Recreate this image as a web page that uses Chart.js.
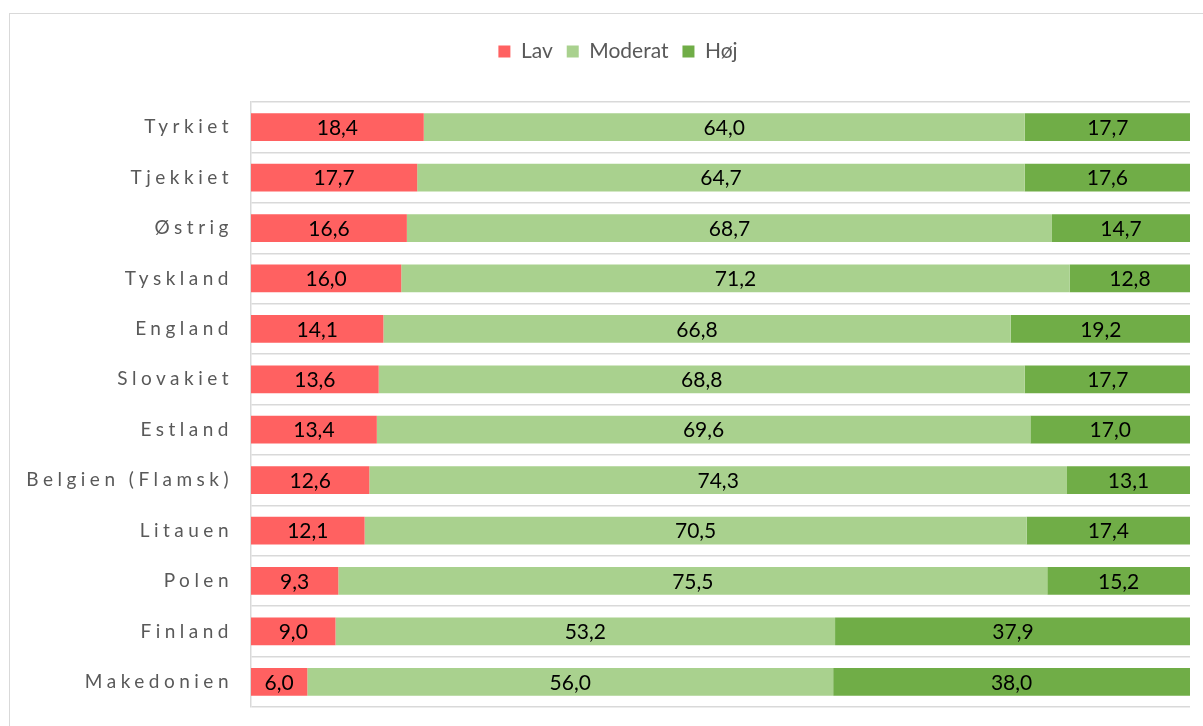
<!DOCTYPE html>
<html>
<head>
<meta charset="utf-8">
<script src="https://cdn.jsdelivr.net/npm/chart.js@4"></script>
<style>
	body { margin: 0; overflow: hidden; background: #fff; }
	#ramme {
		position: absolute; left: 9px; top: 13px;
		width: 1300px; height: 800px;
		border: 1.5px solid #d9d9d9;
	}
	#graf { position: absolute; left: 0; top: 0; }
</style>
</head>
<body>
<div id="ramme"></div>
<canvas id="graf" width="1203" height="726"></canvas>
<script>
const lande = [
	'Tyrkiet',
	'Tjekkiet',
	'Østrig',
	'Tyskland',
	'England',
	'Slovakiet',
	'Estland',
	'Belgien (Flamsk)',
	'Litauen',
	'Polen',
	'Finland',
	'Makedonien',
];

const lav = [18.4, 17.7, 16.6, 16.0, 14.1, 13.6, 13.4, 12.6, 12.1, 9.3, 9.0, 6.0];
const moderat = [64.0, 64.7, 68.7, 71.2, 66.8, 68.8, 69.6, 74.3, 70.5, 75.5, 53.2, 56.0];
const hoej = [17.7, 17.6, 14.7, 12.8, 19.2, 17.7, 17.0, 13.1, 17.4, 15.2, 37.9, 38.0];

const serier = ['Lav', 'Moderat', 'Høj'];

// luft mellem legend og plot, og legend lidt mod højre
const legendGap = {
	id: 'legendGap',
	beforeInit(chart) {
		const fit = chart.legend.fit;
		chart.legend.fit = function () {
			fit.bind(this)();
			this.height += 30;
		};
	},
	afterLayout(chart) {
		chart.legend.left += 23;
		chart.legend.right += 23;
	},
};

// spredte bogstaver på kategori-aksen
const spredteLabels = {
	id: 'spredteLabels',
	afterLayout(chart) {
		const y = chart.scales.y;
		if (y._spredt) return;
		const orig = y.drawLabels.bind(y);
		y.drawLabels = (area) => {
			chart.ctx.save();
			chart.ctx.letterSpacing = '4.5px';
			orig(area);
			chart.ctx.restore();
		};
		y._spredt = true;
	},
};

// værdier midt i hver bar
const vaerdiLabels = {
	id: 'vaerdiLabels',
	afterDatasetsDraw(chart) {
		const ctx = chart.ctx;
		ctx.save();
		ctx.font = '21px Lato';
		ctx.fillStyle = '#000';
		ctx.textAlign = 'center';
		ctx.textBaseline = 'middle';
		chart.data.datasets.forEach((ds, i) => {
			chart.getDatasetMeta(i).data.forEach((bar, j) => {
				const p = bar.getCenterPoint();
				ctx.fillText(ds.data[j].toFixed(1).replace('.', ','), p.x, p.y + 1);
			});
		});
		ctx.restore();
	},
};

document.addEventListener('DOMContentLoaded', () => {
	new Chart(document.getElementById('graf'), {
		type: 'bar',
		data: {
			labels: lande,
			datasets: [
				{ label: serier[0], data: lav, backgroundColor: '#FF6161' },
				{ label: serier[1], data: moderat, backgroundColor: '#A9D18E' },
				{ label: serier[2], data: hoej, backgroundColor: '#70AD47' },
			],
		},
		options: {
			indexAxis: 'y',
			responsive: false,
			animation: false,
			layout: {
				padding: { top: 27, right: 13, bottom: 19, left: 0 },
			},
			datasets: {
				bar: {
					categoryPercentage: 0.55,
					barPercentage: 1,
				},
			},
			plugins: {
				legend: {
					position: 'top',
					labels: {
						boxWidth: 12,
						boxHeight: 12,
						padding: 14,
						color: '#595959',
						font: { family: 'Lato', size: 21 },
					},
				},
				tooltip: { enabled: false },
			},
			scales: {
				x: {
					stacked: true,
					display: false,
					min: 0,
					max: 100,
				},
				y: {
					stacked: true,
					afterFit(scale) {
						scale.width = 251;
						scale.paddingTop = 0;
						scale.paddingBottom = 0;
					},
					ticks: {
						padding: 18,
						color: '#595959',
						font: { family: 'Lato', size: 19 },
					},
					grid: {
						color: '#d9d9d9',
						lineWidth: 1.5,
						drawTicks: false,
					},
					border: {
						color: '#d9d9d9',
						width: 1.5,
					},
				},
			},
		},
		plugins: [legendGap, spredteLabels, vaerdiLabels],
	});
});
</script>
</body>
</html>
